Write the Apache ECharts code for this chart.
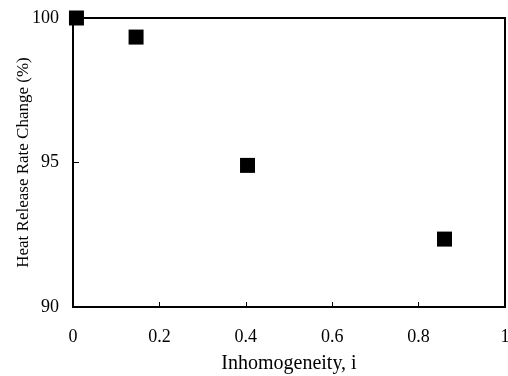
<!DOCTYPE html>
<html><head><meta charset="utf-8">
<script src="https://cdn.jsdelivr.net/npm/echarts@6/dist/echarts.min.js"></script>
<style>html,body{margin:0;padding:0;background:#fff}#c{width:508px;height:376px}</style>
</head><body><div id="c"></div>
<script>
const inhomogeneity = [0.008, 0.146, 0.404, 0.86];
const heatReleaseChange = [100, 99.34, 94.9, 92.35];
const xTicks = [0, 0.2, 0.4, 0.6, 0.8, 1];
const yTicks = [90, 95, 100];

const chart = echarts.init(document.getElementById('c'), null, {renderer: 'canvas'});
const font = 'Liberation Serif, Times New Roman, serif';
chart.setOption({
  animation: false,
  backgroundColor: '#fff',
  grid: {left: 73, right: 3, top: 18, bottom: 69, containLabel: false, outerBoundsMode: 'none',
    show: true, borderColor: '#000', borderWidth: 2, backgroundColor: 'transparent'},
  xAxis: {
    type: 'value', min: 0, max: 1, interval: 0.2,
    name: 'Inhomogeneity, i', nameLocation: 'middle', nameGap: 47, nameMoveOverlap: false,
    nameTextStyle: {fontFamily: font, fontSize: 20, color: '#000'},
    axisLine: {lineStyle: {color: '#000', width: 2}},
    axisTick: {inside: true, length: 5, lineStyle: {color: '#000'}},
    axisLabel: {fontFamily: font, fontSize: 18, color: '#000', margin: 21,
      formatter: v => xTicks.includes(+v.toFixed(1)) ? String(+v.toFixed(1)) : ''},
    splitLine: {show: false}
  },
  yAxis: {
    type: 'value', min: 90, max: 100, interval: 5,
    name: 'Heat Release Rate Change (%)', nameLocation: 'middle', nameGap: 41, nameMoveOverlap: false,
    nameTextStyle: {fontFamily: font, fontSize: 17, color: '#000'},
    axisLine: {show: true, lineStyle: {color: '#000', width: 2}},
    axisTick: {inside: true, length: 6, lineStyle: {color: '#000'}},
    axisLabel: {fontFamily: font, fontSize: 18, color: '#000', margin: 14,
      formatter: v => yTicks.includes(v) ? String(v) : ''},
    splitLine: {show: false}
  },
  series: [{
    type: 'scatter',
    data: inhomogeneity.map((x, i) => [x, heatReleaseChange[i]]),
    symbol: 'rect', symbolSize: 15,
    itemStyle: {color: '#000', opacity: 1}
  }]
});
</script></body></html>
